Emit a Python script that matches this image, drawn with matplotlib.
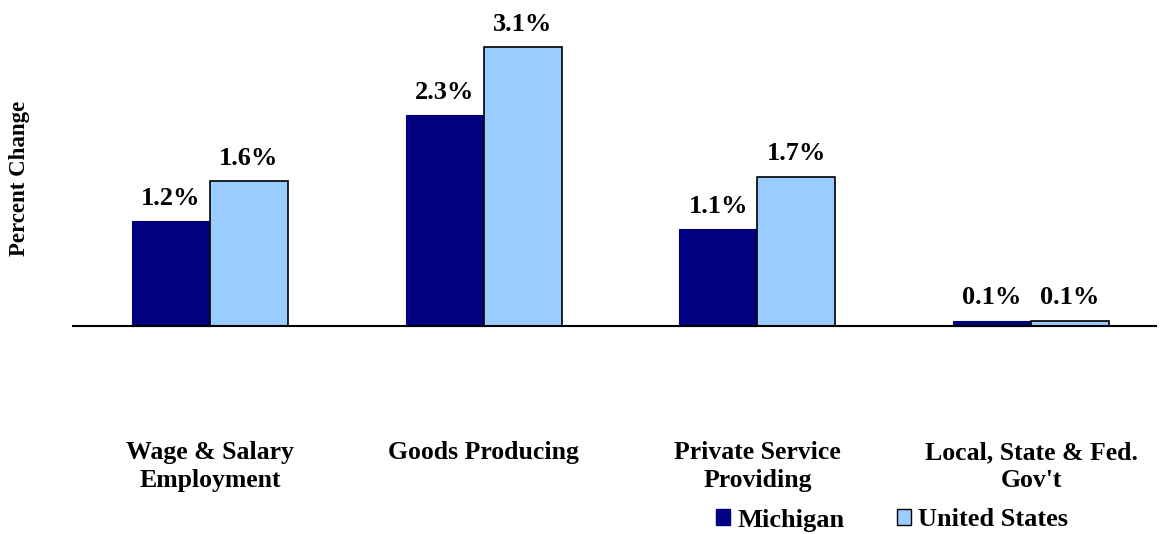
import numpy as np
import matplotlib
matplotlib.use('Agg')
import matplotlib.pyplot as plt
from matplotlib.patches import Patch

categories = ['Wage & Salary\nEmployment', 'Goods Producing',
              'Private Service\nProviding', "Local, State & Fed.\nGov't"]
michigan = [1.17, 2.34, 1.08, 0.06]
united_states = [1.61, 3.10, 1.66, 0.06]
series_names = ['Michigan', 'United States']

navy = '#000080'
light_blue = '#99CCFF'

plt.rcParams['font.family'] = ['Liberation Serif', 'DejaVu Serif']
plt.rcParams['font.weight'] = 'bold'

fig = plt.figure(figsize=(11.61, 5.34), dpi=100)
W, H = 1161, 534
# axes box in pixels: x 72..1157, y 20..405
ax = fig.add_axes([72 / W, 1 - 405 / H, (1157 - 72) / W, (405 - 20) / H])

x = np.arange(len(categories))
width = 0.285
b1 = ax.bar(x - width / 2, michigan, width, color=navy, edgecolor=navy, linewidth=0.8)
b2 = ax.bar(x + width / 2, united_states, width, color=light_blue, edgecolor='black', linewidth=1.2)

for bars in (b1, b2):
    for rect in bars:
        v = rect.get_height()
        ax.annotate(f'{v:.1f}%', (rect.get_x() + rect.get_width() / 2, v),
                    xytext=(0, 8), textcoords='offset points',
                    ha='center', va='bottom', fontsize=19, fontweight='bold')

ax.axhline(0, color='black', linewidth=1.5)
ax.set_xlim(-0.504, 3.46)
ax.set_ylim(-0.878, 3.4)
ax.set_xticks(x)
ax.set_xticklabels(categories, fontsize=18.5, fontweight='bold', linespacing=1.25)
ax.tick_params(axis='x', length=0, pad=26)
ax.set_yticks([])
for s in ax.spines.values():
    s.set_visible(False)

fig.text(20 / W, 1 - 178 / H, 'Percent Change', rotation=90, ha='center', va='center',
         fontsize=16.5, fontweight='bold')

handles = [Patch(facecolor=navy, edgecolor=navy),
           Patch(facecolor=light_blue, edgecolor='black')]
fig.legend(handles, series_names, loc='center', bbox_to_anchor=(892 / W, 1 - 520 / H),
           ncol=2, frameon=False, fontsize=19, handlelength=0.55, handleheight=0.55,
           handletextpad=0.25, columnspacing=2.0, borderpad=0)

fig.savefig('out.png', dpi=100)
